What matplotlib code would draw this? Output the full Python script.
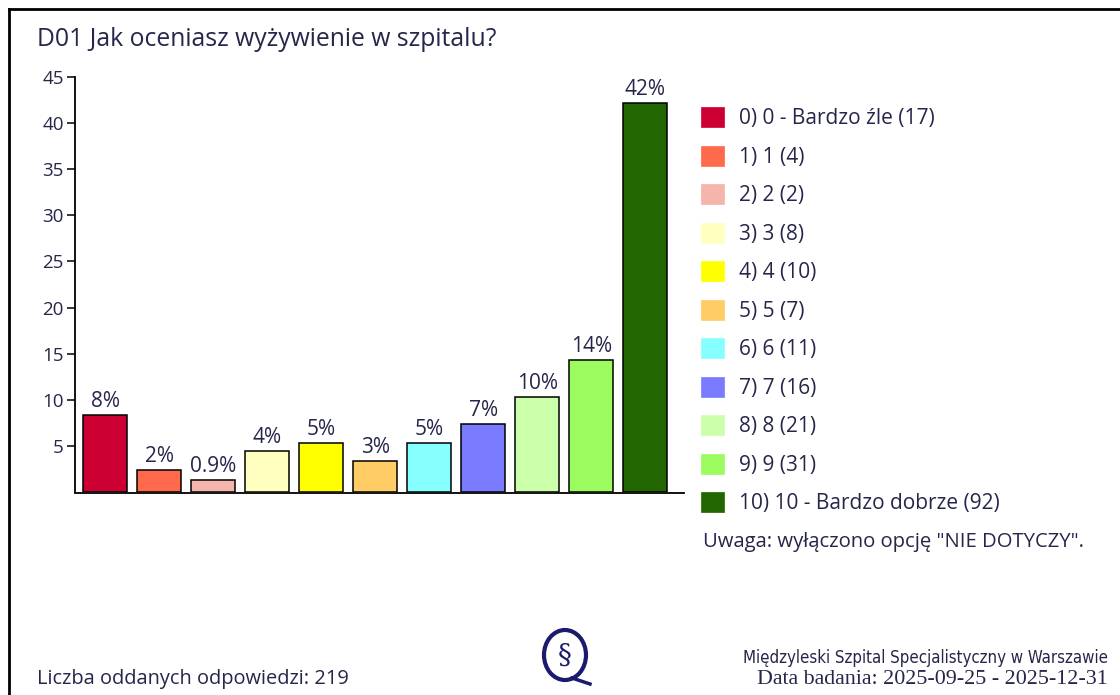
import matplotlib
matplotlib.use("Agg")
import matplotlib.pyplot as plt
from matplotlib.patches import Patch, Ellipse
from matplotlib.lines import Line2D

# ---- data ----
categories = ["0", "1", "2", "3", "4", "5", "6", "7", "8", "9", "10"]
legend_labels = ["0) 0 - Bardzo źle (17)", "1) 1 (4)", "2) 2 (2)", "3) 3 (8)", "4) 4 (10)",
                 "5) 5 (7)", "6) 6 (11)", "7) 7 (16)", "8) 8 (21)", "9) 9 (31)",
                 "10) 10 - Bardzo dobrze (92)"]
values = [8.4, 2.4, 1.3, 4.5, 5.3, 3.4, 5.3, 7.4, 10.3, 14.3, 42.2]
pct_labels = ["8%", "2%", "0.9%", "4%", "5%", "3%", "5%", "7%", "10%", "14%", "42%"]
colors = ["#CC0033", "#FF6A4D", "#F5B5AA", "#FFFFC0", "#FFFF00", "#FFCC66",
          "#88FFFF", "#7B7BFF", "#CCFFAA", "#9CFB5E", "#216600"]
yticks = [5, 10, 15, 20, 25, 30, 35, 40, 45]

FONT = ["Open Sans", "DejaVu Sans"]
TXT = "#26264a"
plt.rcParams["font.family"] = FONT

W, H = 1120, 695
fig = plt.figure(figsize=(W / 100, H / 100), dpi=100)
fig.patch.set_facecolor("white")

def fx(px):
    return px / W

def fy(py):
    return 1 - py / H

ax = fig.add_axes([fx(75), fy(492), fx(684) - fx(75), fy(77) - fy(492)])
x = list(range(len(categories)))
bars = ax.bar(x, values, width=0.815, color=colors, edgecolor="black", linewidth=1.1, zorder=3)
for xi, v, lab in zip(x, values, pct_labels):
    ax.annotate(lab, (xi, v), xytext=(0, 2), textcoords="offset points",
                ha="center", va="bottom", fontsize=15, color=TXT)

ax.set_xlim(-0.565, 10.72)
ax.set_ylim(0, 45)
ax.set_yticks(yticks)
ax.set_yticklabels([str(t) for t in yticks], fontsize=13.5, color=TXT)
ax.set_xticks([])
for s in ["top", "right"]:
    ax.spines[s].set_visible(False)
ax.spines["left"].set_linewidth(1.3)
ax.spines["bottom"].set_linewidth(1.3)
ax.spines["bottom"].set_position(("outward", 1))
ax.tick_params(axis="y", direction="out", length=6, width=1.1, pad=2)
ax.set_facecolor("none")

# legend
handles = [Patch(facecolor=c, edgecolor=c, linewidth=0.5) for c in colors]
leg = fig.legend(handles, legend_labels, loc="upper left",
                 bbox_to_anchor=(fx(701), fy(107)), frameon=False,
                 fontsize=15, handlelength=1.1, handleheight=1.1,
                 handletextpad=0.72, labelspacing=0.79, borderpad=0, borderaxespad=0)
for t in leg.get_texts():
    t.set_color(TXT)

fig.text(fx(703), fy(542), 'Uwaga: wyłączono opcję "NIE DOTYCZY".', fontsize=14.6,
         color=TXT, ha="left", va="center")

# title
fig.text(fx(37), fy(40), "D01 Jak oceniasz wyżywienie w szpitalu?", fontsize=17.8,
         color=TXT, ha="left", va="center")

# footer
fig.text(fx(37), fy(679), "Liczba oddanych odpowiedzi: 219", fontsize=14.4,
         color=TXT, ha="left", va="center")
fig.text(fx(1108), fy(658), "Międzyleski Szpital Specjalistyczny w Warszawie", fontsize=12.1,
         color=TXT, ha="right", va="center", fontstretch="condensed",
         family=["Liberation Sans Narrow", "DejaVu Sans"])
fig.text(fx(1108), fy(680), "Data badania: 2025-09-25 - 2025-12-31", fontsize=15.8,
         color=TXT, ha="right", va="center", family=["Liberation Serif", "DejaVu Serif"])

# logo
logo_c = "#1a1a6e"
fig.patches.append(Ellipse((fx(565), fy(655)), fx(42), 50 / H, transform=fig.transFigure,
                           facecolor="none", edgecolor=logo_c, linewidth=3))
fig.text(fx(565), fy(656), "§", fontsize=20, color=logo_c, ha="center", va="center",
         family=["DejaVu Serif"])
fig.lines.append(Line2D([fx(572), fx(590)], [fy(678), fy(684)], transform=fig.transFigure,
                        color=logo_c, linewidth=2.5))

# frame
fig.lines.append(Line2D([fx(9), fx(1120)], [fy(9), fy(9)], transform=fig.transFigure,
                        color="black", linewidth=2))
fig.lines.append(Line2D([fx(9), fx(9)], [fy(9), fy(695)], transform=fig.transFigure,
                        color="black", linewidth=2))

fig.savefig("out.png", dpi=100, facecolor="white")
